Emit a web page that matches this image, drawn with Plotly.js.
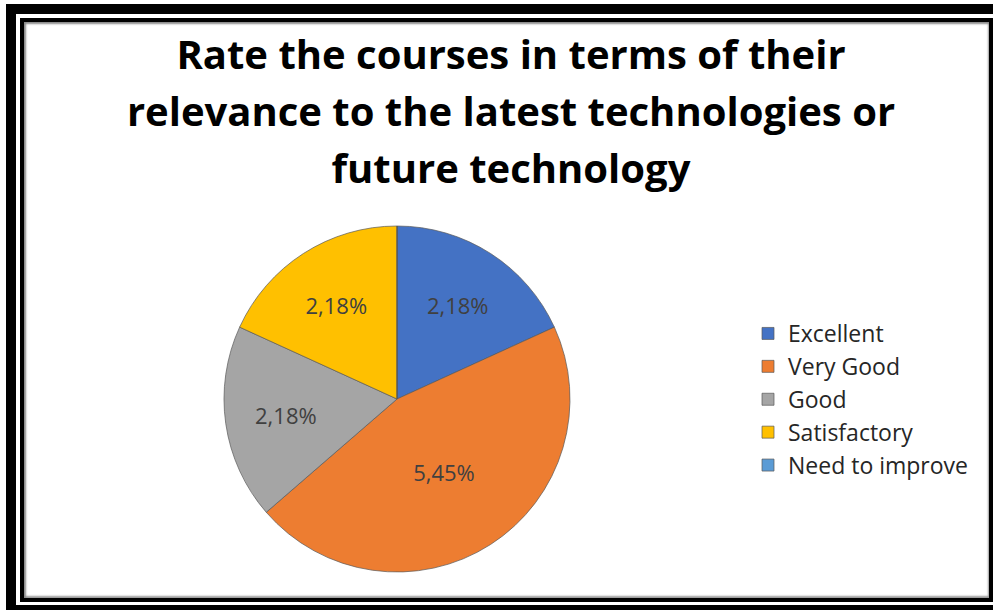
<!DOCTYPE html>
<html>
<head>
<meta charset="utf-8">
<script src="https://cdn.plot.ly/plotly-3.0.1.min.js"></script>
<style>
  html, body { margin:0; padding:0; width:993px; height:610px; overflow:hidden; background:#fff; }
  #outer { position:absolute; left:6px; top:4px; width:1000px; height:611px; border:10px solid #000; box-sizing:border-box; }
  #inner { position:absolute; left:20px; top:18px; width:973px; height:584px; border:4px solid #000; box-sizing:border-box; box-shadow: inset 2px 2px 2px #8a8a8a, inset -1px -2px 2px #9a9a9a; }
  #chart { position:absolute; left:0; top:0; width:993px; height:610px; }
</style>
</head>
<body>
<div id="outer"></div>
<div id="inner"></div>
<div id="chart"></div>
<script>
const categories = ["Excellent", "Very Good", "Good", "Satisfactory", "Need to improve"];
const counts = [2, 5, 2, 2, 0];
const sliceColors = ["#4472C4", "#ED7D31", "#A5A5A5", "#FFC000", "#5B9BD5"];
const titleLines = ["Rate the courses in terms of their", "relevance to the latest technologies or", "future technology"];

const W = 993, H = 610;
const cx = 397, cy = 399, r = 173;

const trace = {
  type: "pie",
  labels: categories,
  values: counts,
  sort: false,
  direction: "clockwise",
  rotation: 0,
  marker: { colors: sliceColors, line: { color: "rgba(90,90,90,0.7)", width: 1 } },
  texttemplate: counts.map(v => v > 0 ? "%{value},%{percent:.0%}" : ""),
  textposition: "inside",
  insidetextorientation: "horizontal",
  textfont: { family: "Open Sans, sans-serif", size: 22, color: "#404040" },
  hoverinfo: "label+value+percent",
  domain: { x: [(cx - r) / W, (cx + r) / W], y: [(H - cy - r) / H, (H - cy + r) / H] },
  showlegend: true
};

const layout = {
  width: W, height: H,
  margin: { l: 0, r: 0, t: 0, b: 0 },
  paper_bgcolor: "rgba(0,0,0,0)",
  plot_bgcolor: "rgba(0,0,0,0)",
  title: {
    text: '<span style="font-size:40px">' + titleLines.join("<br>") + '</span>',
    font: { family: "Open Sans, sans-serif", size: 44, color: "#000", weight: "bold" },
    x: 511 / W, xanchor: "center",
    y: 1 - 69 / H, yanchor: "top"
  },
  legend: {
    x: 748 / W, y: 1 - 312 / H, xanchor: "left", yanchor: "top",
    font: { family: "Open Sans, sans-serif", size: 23, color: "#262626" },
    bgcolor: "rgba(0,0,0,0)",
    traceorder: "normal"
  },
  showlegend: true
};

Plotly.newPlot("chart", [trace], layout, { displayModeBar: false, staticPlot: true });
</script>
</body>
</html>
